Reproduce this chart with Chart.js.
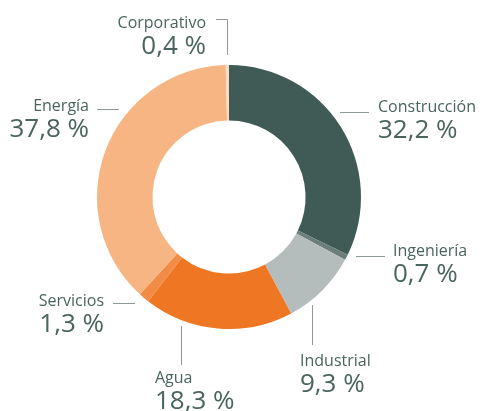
<!DOCTYPE html>
<html>
<head>
<meta charset="utf-8">
<script src="https://cdn.jsdelivr.net/npm/chart.js@4"></script>
<style>
  html, body { margin: 0; padding: 0; background: #fff; }
  #wrap { width: 480px; height: 411px; }
</style>
</head>
<body>
<div id="wrap"><canvas id="donut" width="480" height="411"></canvas></div>
<script>
// data, clockwise from 12 o'clock
const categories = ['Construcción', 'Ingeniería', 'Industrial', 'Agua', 'Servicios', 'Energía', 'Corporativo'];
const shares = [32.2, 0.7, 9.3, 18.3, 1.3, 37.8, 0.4];
const sliceColors = ['#405b55', '#6b7e79', '#b4bdbb', '#ef7723', '#f18b45', '#f6b583', '#fcdcc2'];

// label placement: text anchor, alignment, leader line
const labelLayout = [
  { x: 378, y: 112, align: 'left',  line: [[340, 112.5], [369, 112.5]] },
  { x: 393, y: 256, align: 'left',  line: [[356, 256.5], [385, 256.5]] },
  { x: 300, y: 366, align: 'left',  line: [[312.5, 305], [312.5, 345]] },
  { x: 155, y: 383, align: 'left',  line: [[181.5, 326], [181.5, 365]] },
  { x: 104, y: 306, align: 'right', line: [[113, 303.5], [135, 303.5]] },
  { x: 89,  y: 111, align: 'right', line: [[97, 109.5], [119, 109.5]] },
  { x: 206, y: 28,  align: 'right', line: [[216, 19.5], [227.5, 19.5], [227.5, 55]] }
];

function fmt(v) {
  return v.toFixed(1).replace('.', ',') + ' %';
}

const outsideLabels = {
  id: 'outsideLabels',
  afterDraw(chart) {
    const ctx = chart.ctx;
    ctx.save();
    ctx.strokeStyle = '#8d9a97';
    ctx.lineWidth = 1;
    labelLayout.forEach((l, i) => {
      ctx.beginPath();
      ctx.moveTo(l.line[0][0], l.line[0][1]);
      for (let k = 1; k < l.line.length; k++) ctx.lineTo(l.line[k][0], l.line[k][1]);
      ctx.stroke();

      ctx.fillStyle = '#4a655f';
      ctx.textAlign = l.align;
      ctx.textBaseline = 'alphabetic';
      ctx.font = '16px "Open Sans"';
      ctx.fillText(categories[i], l.x, l.y);
      ctx.font = '26px "Open Sans"';
      ctx.fillText(fmt(shares[i]), l.x, l.y + 26);
    });
    ctx.restore();
  }
};

new Chart(document.getElementById('donut').getContext('2d'), {
  type: 'doughnut',
  data: {
    labels: categories,
    datasets: [{
      data: shares,
      backgroundColor: sliceColors,
      borderWidth: 0
    }]
  },
  options: {
    responsive: false,
    animation: false,
    cutout: '58%',
    layout: { padding: { top: 65, bottom: 82, left: 97, right: 119 } },
    plugins: {
      legend: { display: false },
      tooltip: { enabled: false }
    }
  },
  plugins: [outsideLabels]
});
</script>
</body>
</html>
